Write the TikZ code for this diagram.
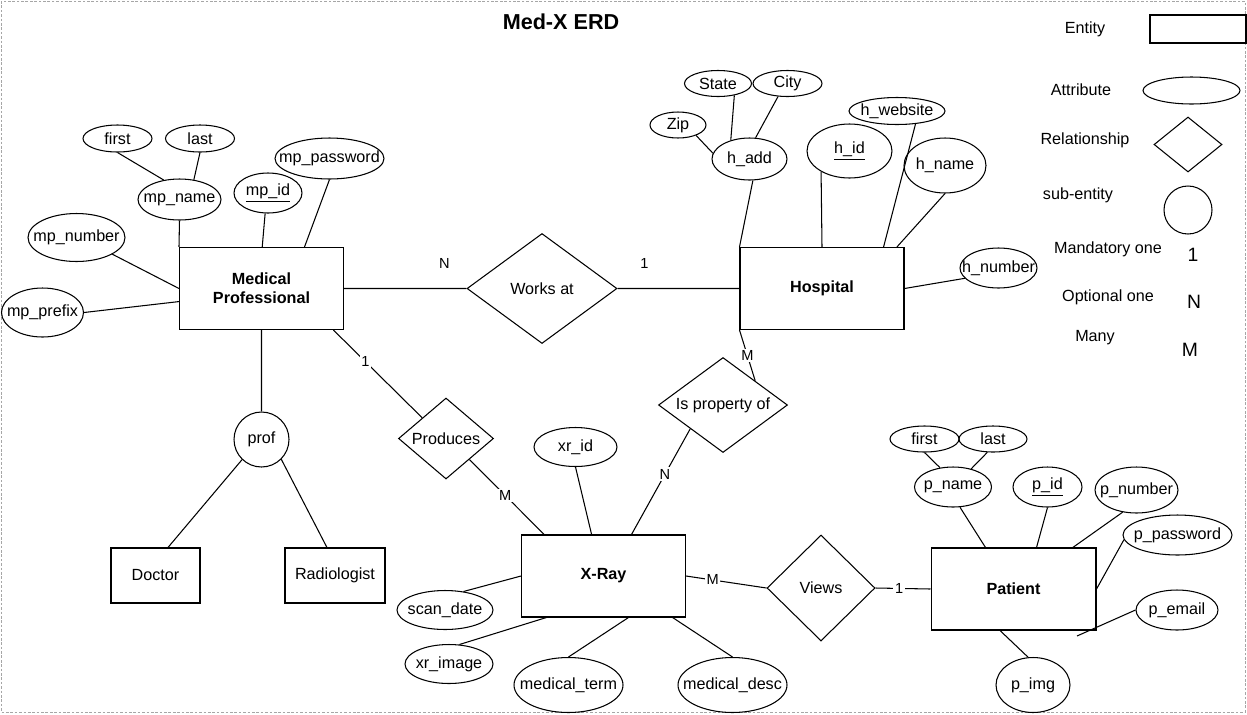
\documentclass[tikz,border=0pt]{standalone}
\usepackage{fontspec}
\setmainfont{Liberation Sans}
\usetikzlibrary{shapes.geometric}
\tikzstyle{entity}=[rectangle, draw, line width=0.6pt, inner sep=0pt, font=\bfseries]
\tikzstyle{subbox}=[rectangle, draw, line width=0.6pt, inner sep=0pt]
\tikzstyle{attr}=[ellipse, draw, line width=0.6pt, inner sep=0pt]
\tikzstyle{rel}=[diamond, draw, line width=0.6pt, inner sep=0pt]
\tikzstyle{subent}=[circle, draw, line width=0.6pt, inner sep=0pt]
\tikzstyle{card}=[font=\fontsize{8.3}{9}\selectfont, inner sep=1pt]
\tikzstyle{key}=[font=\fontsize{11}{12}\selectfont]
\newcommand{\zw}[1]{\makebox[0pt]{#1}}

\begin{document}
\fontsize{9.2}{11}\selectfont
\begin{tikzpicture}[x=0.02cm, y=-0.02cm]
    \useasboundingbox (0,0) rectangle (1247,714);
    \draw[gray!70, dash pattern=on 1.5pt off 1pt] (1,1) rectangle (1245,712);
    \node[font=\fontsize{12.3}{14}\selectfont\bfseries] (title) at (561,22) {Med-X ERD};

    \node[entity, minimum width=3.28cm, minimum height=1.64cm, align=center] (medprof) at (261.5,288.5) {Medical\\Professional};
    \node[entity, minimum width=3.28cm, minimum height=1.64cm] (hospital) at (822,288.5) {Hospital};
    \node[entity, minimum width=3.28cm, minimum height=1.64cm] (xray) at (603.5,576) {X-Ray};
    \node[entity, minimum width=3.3cm, minimum height=1.64cm] (patient) at (1013.5,589) {Patient};
    \node[subbox, minimum width=1.78cm, minimum height=1.1cm] (doctor) at (155.5,575.5) {Doctor};
    \node[subbox, minimum width=2cm, minimum height=1.1cm] (radio) at (335,575.5) {Radiologist};
    \node[subent, minimum size=1.1cm] (prof) at (261.5,439.5) {prof};

    \node[rel, minimum width=3cm, minimum height=2.2cm] (works) at (542,288.5) {\zw{Works at}};
    \node[rel, minimum width=2.58cm, minimum height=1.9cm] (isprop) at (723,405) {\zw{Is property of}};
    \node[rel, minimum width=1.9cm, minimum height=1.62cm] (produces) at (446,438.5) {\zw{Produces}};
    \node[rel, minimum width=2.16cm, minimum height=2.12cm] (views) at (821,588) {\zw{Views}};

    \node[attr, minimum width=1.38cm, minimum height=0.54cm] (mpfirst) at (117.5,138.5) {\zw{first}};
    \node[attr, minimum width=1.38cm, minimum height=0.54cm] (mplast) at (200,138.5) {\zw{last}};
    \node[attr, minimum width=1.66cm, minimum height=0.82cm] (mpname) at (179.5,199.5) {\zw{mp\_name}};
    \node[attr, minimum width=1.36cm, minimum height=0.8cm] (mpid) at (268,193) {\zw{\underline{mp\_id}}};
    \node[attr, minimum width=2.18cm, minimum height=0.82cm] (mppass) at (329.5,158.5) {\zw{mp\_password}};
    \node[attr, minimum width=1.94cm, minimum height=0.96cm] (mpnum) at (76.5,237.5) {\zw{mp\_number}};
    \node[attr, minimum width=1.64cm, minimum height=0.98cm] (mpprefix) at (42.5,312.5) {\zw{mp\_prefix}};

    \node[attr, minimum width=1.34cm, minimum height=0.52cm] (state) at (718,83.5) {\zw{State}};
    \node[attr, minimum width=1.38cm, minimum height=0.52cm] (city) at (787.5,83.5) {\zw{City}};
    \node[attr, minimum width=1.12cm, minimum height=0.52cm] (zip) at (678,125) {\zw{Zip}};
    \node[attr, minimum width=1.5cm, minimum height=0.84cm] (hadd) at (749.5,159) {\zw{h\_add}};
    \node[attr, minimum width=1.7cm, minimum height=1.08cm] (hid) at (849.5,151) {\zw{\underline{h\_id}}};
    \node[attr, minimum width=1.92cm, minimum height=0.54cm] (hweb) at (897,111) {\zw{h\_website}};
    \node[attr, minimum width=1.64cm, minimum height=1.1cm] (hname) at (945,165.5) {\zw{h\_name}};
    \node[attr, minimum width=1.54cm, minimum height=0.8cm] (hnum) at (998.5,268) {\zw{h\_number}};

    \node[attr, minimum width=1.66cm, minimum height=0.78cm] (xrid) at (575.5,447) {\zw{xr\_id}};
    \node[attr, minimum width=1.92cm, minimum height=0.78cm] (scandate) at (445,610) {\zw{scan\_date}};
    \node[attr, minimum width=1.76cm, minimum height=0.78cm] (xrimage) at (449,664) {\zw{xr\_image}};
    \node[attr, minimum width=2.18cm, minimum height=1.1cm] (medterm) at (568.5,685) {\zw{medical\_term}};
    \node[attr, minimum width=2.18cm, minimum height=1.1cm] (meddesc) at (732.5,685) {\zw{medical\_desc}};

    \node[attr, minimum width=1.38cm, minimum height=0.52cm] (pfirst) at (924.5,439) {\zw{first}};
    \node[attr, minimum width=1.36cm, minimum height=0.52cm] (plast) at (993,439) {\zw{last}};
    \node[attr, minimum width=1.54cm, minimum height=0.8cm] (pname) at (953,487) {\zw{p\_name}};
    \node[attr, minimum width=1.38cm, minimum height=0.8cm] (pid) at (1047.5,487) {\zw{\underline{p\_id}}};
    \node[attr, minimum width=1.66cm, minimum height=0.92cm] (pnum) at (1136.5,490) {\zw{p\_number}};
    \node[attr, minimum width=2.18cm, minimum height=0.8cm] (ppass) at (1177.5,535) {\zw{p\_password}};
    \node[attr, minimum width=1.64cm, minimum height=0.8cm] (pemail) at (1177,610) {\zw{p\_email}};
    \node[attr, minimum width=1.48cm, minimum height=1.1cm] (pimg) at (1033,685) {\zw{p\_img}};
    \coordinate (emailend) at (1077,636);

    \node (kentity) at (1085,29) {Entity};
    \node[subbox, minimum width=1.92cm, minimum height=0.56cm] (kbox) at (1198,29) {};
    \node (kattr) at (1081,90) {Attribute};
    \node[attr, minimum width=1.94cm, minimum height=0.54cm] (kell) at (1191.5,90.5) {};
    \node (krel) at (1085,140) {Relationship};
    \node[rel, minimum width=1.36cm, minimum height=1.1cm] (kdia) at (1188,144.5) {};
    \node (ksub) at (1078,195) {sub-entity};
    \node[subent, minimum size=0.96cm] (kcirc) at (1188,210) {};
    \node (kmand) at (1108,249) {Mandatory one};
    \node[key] (kone) at (1193,255) {1};
    \node (kopt) at (1108,297) {Optional one};
    \node[key] (kn) at (1194,302) {N};
    \node (kmany) at (1095,338) {Many};
    \node[key] (km) at (1190,350) {M};

    \draw[line width=0.6pt]
        (mpfirst.south) -- (mpname.129)
        (mplast.south) -- (mpname.54)
        (mpname.south) -- (medprof.north west)
        (mpid.-98) -- (medprof.89)
        (mppass.south) -- (medprof.44)
        (mpnum.-25) -- (medprof.west)
        (mpprefix.east) -- (medprof.189)
        (zip.-30) -- (hadd.171)
        (state.-36) -- (hadd.135)
        (city.-126) -- (hadd.74)
        (hadd.-81) -- (hospital.north west)
        (hid.-144) -- (hospital.north)
        (hweb.-35) -- (hospital.34)
        (hname.south) -- (hospital.29)
        (hnum.-163) -- (hospital.east)
        (medprof.south) -- (prof.north)
        (prof.-134) -- (doctor.66)
        (prof.-45) -- (radio.106)
        (xrid.south) -- (xray.106)
        (scandate.45) -- (xray.west)
        (xrimage.62) -- (xray.216)
        (medterm.north) -- (xray.-59)
        (meddesc.north) -- (xray.-31)
        (pfirst.south) -- (pname.124)
        (plast.-113) -- (pname.45)
        (pname.-71) -- (patient.124)
        (pid.south) -- (patient.61)
        (pnum.-122) -- (patient.35)
        (ppass.185) -- (patient.east)
        (pemail.west) -- (emailend)
        (pimg.100) -- (patient.-108)
        (medprof.east) to node[card, pos=.82, above=10pt] {N} (works.west)
        (works.east) to node[card, pos=.22, above=10pt] {1} (hospital.west)
        (medprof.-30) to node[card, fill=white, pos=.36] {1} (produces.139)
        (produces.-42) to node[card, fill=white, pos=.48] {M} (xray.145)
        (hospital.south west) to node[card, fill=white] {M} (isprop.37)
        (isprop.216) to node[card, fill=white, pos=.43] {N} (xray.56)
        (xray.east) to node[card, fill=white, pos=.33] {M} (views.west)
        (views.east) to node[card, fill=white, pos=.43] {1} (patient.west)
    ;
\end{tikzpicture}
\end{document}
